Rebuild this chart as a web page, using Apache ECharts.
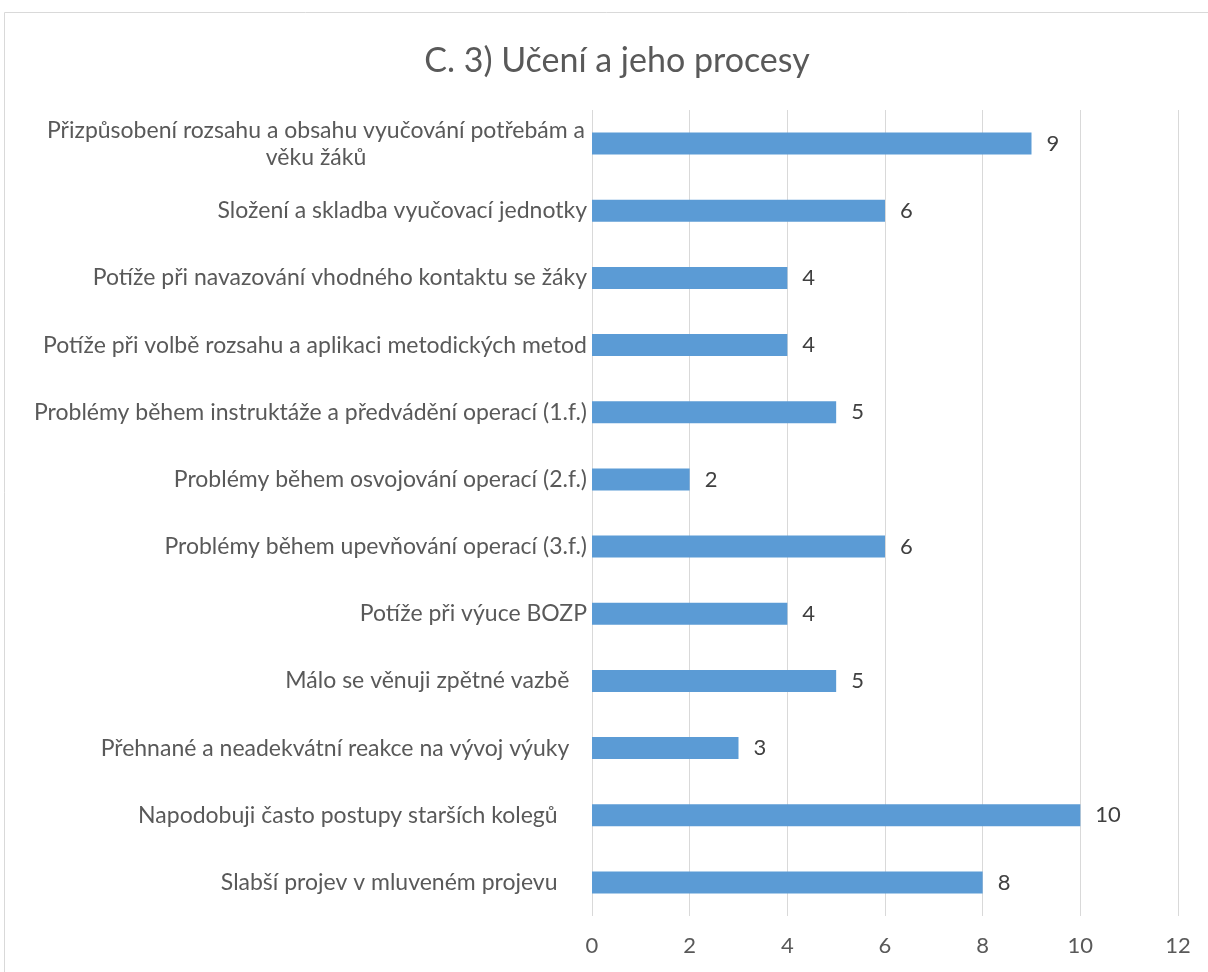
<!DOCTYPE html>
<html>
<head>
<meta charset="utf-8">
<script src="https://cdn.jsdelivr.net/npm/echarts@6/dist/echarts.min.js"></script>
<style>
html,body{margin:0;padding:0;background:#fff;}
#chart{width:1208px;height:972px;}
</style>
</head>
<body>
<div id="chart"></div>
<script>
const titleText = 'C. 3) Učení a jeho procesy';
const categories = [
  'Přizpůsobení rozsahu a obsahu vyučování potřebám a\nvěku žáků',
  'Složení a skladba vyučovací jednotky',
  'Potíže při navazování vhodného kontaktu se žáky',
  'Potíže při volbě rozsahu a aplikaci metodických metod',
  'Problémy během instruktáže a předvádění operací (1.f.)',
  'Problémy během osvojování operací (2.f.)',
  'Problémy během upevňování operací (3.f.)',
  'Potíže při výuce BOZP',
  'Málo se věnuji zpětné vazbě   ',
  'Přehnané a neadekvátní reakce na vývoj výuky   ',
  'Napodobuji často postupy starších kolegů     ',
  'Slabší projev v mluveném projevu     '
];
const values = [9, 6, 4, 4, 5, 2, 6, 4, 5, 3, 10, 8];
const xTicks = { min: 0, max: 12, interval: 2 };

const FONT = 'Lato, "Open Sans", sans-serif';
const LABEL_SIZE = 23;

function render() {
  const ctx = document.createElement('canvas').getContext('2d');
  ctx.font = LABEL_SIZE + 'px ' + FONT;
  const tw = s => ctx.measureText(s).width;

  // wrapped labels: every line in a box a little wider than the widest line, text centred in it
  let wrapBox = 0;
  categories.forEach(function (c) {
    if (c.indexOf('\n') < 0) return;
    c.split('\n').forEach(function (s) { wrapBox = Math.max(wrapBox, tw(s)); });
  });
  wrapBox = Math.ceil(wrapBox) + 4;

  const chart = echarts.init(document.getElementById('chart'), null, {renderer: 'canvas'});
  chart.setOption({
    animation: false,
    backgroundColor: '#ffffff',
    graphic: [{
      type: 'rect', silent: true, z: -10,
      shape: {x: 4.5, y: 12.5, width: 1300, height: 1100},
      style: {fill: 'none', stroke: '#d9d9d9', lineWidth: 1}
    }],
    title: {
      text: titleText,
      left: 612, top: 39, textAlign: 'center',
      textStyle: {fontFamily: FONT, fontSize: 34, fontWeight: 'normal', color: '#595959'}
    },
    grid: {left: 592, top: 110, width: 586, height: 806, containLabel: false},
    xAxis: {
      type: 'value', min: xTicks.min, max: xTicks.max, interval: xTicks.interval,
      axisLine: {show: false}, axisTick: {show: false},
      splitLine: {show: true, lineStyle: {color: '#d9d9d9', width: 1}},
      axisLabel: {margin: 19, fontFamily: FONT, fontSize: 22, color: '#595959'}
    },
    yAxis: {
      type: 'category', data: categories, inverse: true,
      axisLine: {show: false}, axisTick: {show: false},
      axisLabel: {
        margin: 5, fontFamily: FONT, fontSize: LABEL_SIZE, color: '#595959', lineHeight: 27,
        formatter: function (v) {
          return v.indexOf('\n') >= 0 ? v.split('\n').map(s => '{w|' + s + '}').join('\n') : v;
        },
        rich: {w: {width: wrapBox, align: 'center', fontFamily: FONT, fontSize: LABEL_SIZE, color: '#595959', lineHeight: 27}}
      }
    },
    series: [{
      type: 'bar', data: values, barWidth: 22,
      itemStyle: {color: '#5b9bd5'},
      label: {show: true, position: 'right', distance: 15, fontFamily: FONT, fontSize: 22, color: '#404040'}
    }]
  });
}

if (document.fonts && document.fonts.load) {
  document.fonts.load(LABEL_SIZE + 'px Lato').then(render, render);
} else {
  render();
}
</script>
</body>
</html>
